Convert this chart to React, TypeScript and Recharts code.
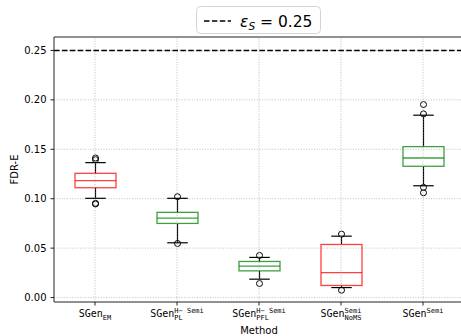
import {
  ComposedChart,
  Bar,
  XAxis,
  YAxis,
  CartesianGrid,
  ReferenceLine,
  Customized,
} from 'recharts'

const methods = ['EM', 'PL', 'PFL', 'NoMS', 'Semi']
const subLabels = ['EM', 'PL', 'PFL', 'NoMS', '']
const supLabels = ['', 'H\u2212 Semi', 'H\u2212 Semi', 'Semi', 'Semi']
const boxColors = ['red', 'green', 'green', 'red', 'green']

const q1 = [0.1111, 0.075, 0.027, 0.0122, 0.1328]
const medians = [0.1182, 0.0804, 0.0317, 0.0253, 0.1412]
const q3 = [0.1257, 0.0862, 0.0365, 0.0537, 0.1527]
const whiskerLow = [0.1004, 0.0554, 0.0186, 0.0101, 0.1131]
const whiskerHigh = [0.1365, 0.1004, 0.0406, 0.0621, 0.1845]
const outliers = [
  [0.1395, 0.1412, 0.0953, 0.0947],
  [0.102, 0.0547],
  [0.0426, 0.0142],
  [0.0642, 0.0074],
  [0.1858, 0.1953, 0.1115, 0.106],
]

const threshold = 0.25
const yTicks = [0, 0.05, 0.1, 0.15, 0.2, 0.25]

const rows = methods.map((m, i) => ({
  method: m,
  q1: q1[i],
  median: medians[i],
  q3: q3[i],
  lo: whiskerLow[i],
  hi: whiskerHigh[i],
  fliers: outliers[i],
  color: boxColors[i],
}))

function BoxShape(props: any) {
  const { x, y, width, height, payload } = props
  const d = payload
  // linear map from the bar's own scaled edges (q3 -> y, q1 -> y + height)
  const py = (v: number) => y + ((d.q3 - v) / (d.q3 - d.q1)) * height
  const cx = x + width / 2
  const cap = width / 4
  return (
    <g>
      <line x1={cx} x2={cx} y1={py(d.hi)} y2={py(d.q3)} stroke="#000" strokeWidth={1.2} />
      <line x1={cx} x2={cx} y1={py(d.q1)} y2={py(d.lo)} stroke="#000" strokeWidth={1.2} />
      <line x1={cx - cap} x2={cx + cap} y1={py(d.hi)} y2={py(d.hi)} stroke="#000" strokeWidth={1.2} />
      <line x1={cx - cap} x2={cx + cap} y1={py(d.lo)} y2={py(d.lo)} stroke="#000" strokeWidth={1.2} />
      <rect x={x} y={y} width={width} height={height} fill="none" stroke={d.color} strokeOpacity={0.75} strokeWidth={1.3} />
      <line x1={x} x2={x + width} y1={py(d.median)} y2={py(d.median)} stroke={d.color} strokeOpacity={0.75} strokeWidth={1.3} />
      {d.fliers.map((v: number, k: number) => (
        <circle key={k} cx={cx} cy={py(v)} r={3} fill="none" stroke="#000" strokeWidth={1} />
      ))}
    </g>
  )
}

function MethodTick(props: any) {
  const { x, y, payload } = props
  const i = methods.indexOf(payload.value)
  const sub = subLabels[i]
  const sup = supLabels[i]
  const mainW = 4 * 10 * 0.602
  const scriptW = Math.max(sub.length, sup.length) * 7 * 0.602
  const left = x - (mainW + scriptW) / 2
  const base = y + 9.5
  return (
    <g fontFamily="DejaVu Sans Mono" fill="#000">
      <text x={left} y={base} fontSize={10}>SGen</text>
      {sub && <text x={left + mainW} y={base + 2.5} fontSize={7}>{sub}</text>}
      {sup && <text x={left + mainW} y={base - 4.5} fontSize={7}>{sup}</text>}
    </g>
  )
}

// axis titles and the legend box, drawn inside the chart svg
function Decorations() {
  return (
    <g>
      <text transform="translate(18,169.5) rotate(-90)" textAnchor="middle" fontSize={10} fontFamily="DejaVu Sans" fill="#000">
        FDR-E
      </text>
      <text x={259} y={334} textAnchor="middle" fontSize={10} fontFamily="DejaVu Sans" fill="#000">
        Method
      </text>
      <rect x={196.5} y={6.5} width={124} height={27} rx={4} fill="#fff" fillOpacity={0.8} stroke="#d4d4d4" />
      <line x1={204} x2={231} y1={21} y2={21} stroke="#000" strokeWidth={1.5} strokeDasharray="5.5 2.4" />
      <text x={240} y={27} fontFamily="DejaVu Sans" fontSize={15.5} fill="#000">
        <tspan fontStyle="italic">ε</tspan>
        <tspan fontStyle="italic" fontSize={10.5} dy={3}>S</tspan>
        <tspan dy={-3}> = 0.25</tspan>
      </text>
    </g>
  )
}

export default function App() {
  return (
    <div style={{ position: 'absolute', left: 0, top: 0, width: 461, height: 336, overflow: 'hidden', background: '#fff' }}>
      <ComposedChart
        width={461}
        height={336}
        data={rows}
        margin={{ top: 36, right: -3, bottom: 0, left: 0 }}
      >
        <CartesianGrid vertical={false} syncWithTicks stroke="#b0b0b0" strokeWidth={0.8} strokeDasharray="1 1.6" />
        <XAxis
          dataKey="method"
          height={34}
          tickSize={3.5}
          tick={<MethodTick />}
          interval={0}
          axisLine={{ stroke: '#222' }}
          tickLine={{ stroke: '#222' }}
        />
        <XAxis xAxisId="top" orientation="top" dataKey="method" height={1} tick={false} tickLine={false} axisLine={{ stroke: '#222' }} />
        <YAxis
          width={54}
          domain={[-0.0045, 0.2636]}
          ticks={yTicks}
          tickFormatter={(v: number) => v.toFixed(2)}
          tickSize={3.5}
          tickMargin={4}
          tick={{ fontSize: 10, fill: '#000', fontFamily: 'DejaVu Sans' }}
          axisLine={{ stroke: '#222' }}
          tickLine={{ stroke: '#222' }}
        />
        {methods.map((m) => (
          <ReferenceLine key={m} x={m} stroke="#b0b0b0" strokeWidth={0.8} strokeDasharray="1 1.6" />
        ))}
        <ReferenceLine y={threshold} stroke="#000" strokeWidth={1.5} strokeDasharray="5.5 2.4" />
        <Bar
          dataKey={(d: any) => [d.q1, d.q3]}
          barSize={41}
          shape={<BoxShape />}
          isAnimationActive={false}
        />
        <Customized component={Decorations} />
      </ComposedChart>
    </div>
  )
}
